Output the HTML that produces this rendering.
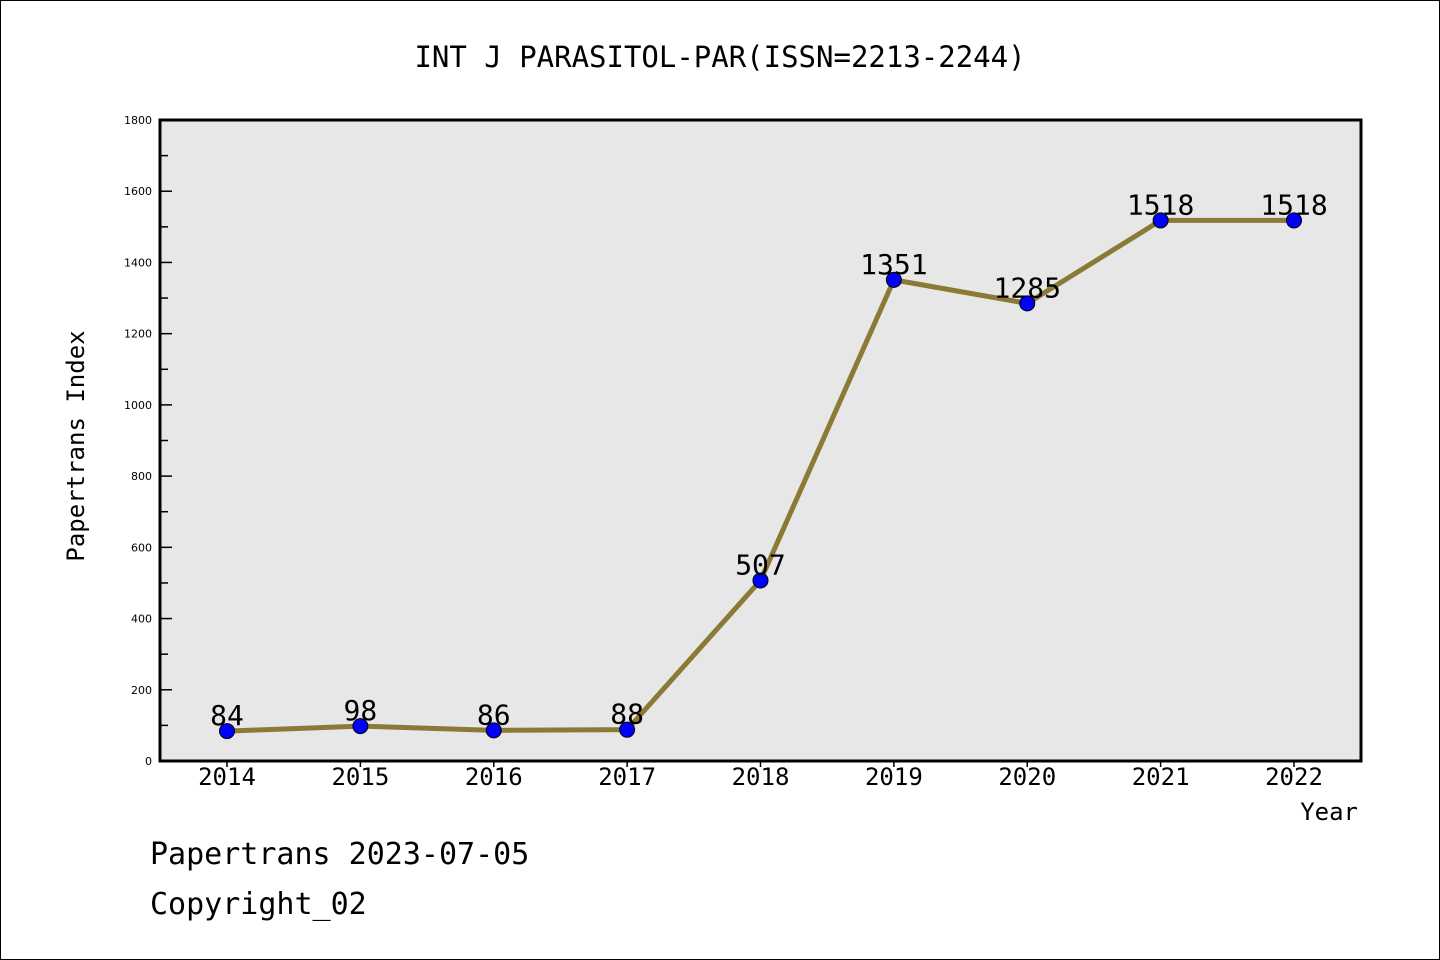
<!DOCTYPE html>
<html><head><meta charset="utf-8"><style>
body{margin:0;background:#fff}
svg{display:block;font-family:"DejaVu Sans Mono","Liberation Mono",monospace}
</style></head><body>
<svg id="c" width="1440" height="960" xmlns="http://www.w3.org/2000/svg">
<rect x="0.5" y="0.5" width="1439" height="959" fill="#fff" stroke="#000"/>
<text x="720" y="67" font-size="29" text-anchor="middle">INT J PARASITOL-PAR(ISSN=2213-2244)</text>
<rect x="160" y="120" width="1201" height="641" fill="#e7e7e7"/>
<g id="ticks"></g>
<g id="marks"></g>
<rect x="160" y="120" width="1201" height="641" fill="none" stroke="#000" stroke-width="3"/>
<text x="84" y="446" font-size="24" text-anchor="middle" transform="rotate(-90 84 446)">Papertrans Index</text>
<text x="1358" y="820" font-size="24" text-anchor="end">Year</text>
<text x="150" y="864" font-size="30">Papertrans 2023-07-05</text>
<text x="150" y="914" font-size="30">Copyright_02</text>
</svg>
<script>
const years=["2014","2015","2016","2017","2018","2019","2020","2021","2022"];
const values=[84,98,86,88,507,1351,1285,1518,1518];
const yTicks=[0,200,400,600,800,1000,1200,1400,1600,1800];
const NS="http://www.w3.org/2000/svg";
const x0=227,x1=1294,yb=761,yt=120,ymax=1800;
const xs=i=>x0+(x1-x0)*i/(years.length-1);
const ys=v=>yb-(yb-yt)*v/ymax;
function mk(t,a,p){const e=document.createElementNS(NS,t);for(const k in a)e.setAttribute(k,a[k]);p.appendChild(e);return e;}
const tg=document.getElementById('ticks'),mg=document.getElementById('marks');
yTicks.forEach((v,i)=>{
 const t=mk('text',{x:152,y:ys(v)+4,'font-size':11,'text-anchor':'end','font-family':'DejaVu Sans, sans-serif'},tg);t.textContent=v;
 
 
 const l=mk('line',{x1:160,x2:172,y1:ys(v),y2:ys(v),stroke:'#000','stroke-width':1.5},tg);
 
 
 if(i<yTicks.length-1){const m=ys(v+100);
  const n=mk('line',{x1:160,x2:168,y1:m,y2:m,stroke:'#000','stroke-width':1.5},tg);
  
  }
});
years.forEach((y,i)=>{
 const t=mk('text',{x:xs(i),y:785,'font-size':24,'text-anchor':'middle'},tg);t.textContent=y;
 
 
 const l=mk('line',{x1:xs(i),x2:xs(i),y1:761,y2:767,stroke:'#000','stroke-width':1.5},tg);
 
 
});
const pl=mk('polyline',{points:values.map((v,i)=>xs(i)+','+ys(v)).join(' '),fill:'none',stroke:'#8b7a35','stroke-width':5,'stroke-linejoin':'round'},mg);


values.forEach((v,i)=>{
 const c=mk('circle',{cx:xs(i),cy:ys(v),r:7.5,fill:'#0000ff',stroke:'#000','stroke-width':1},mg);
 
 
 const t=mk('text',{x:xs(i),y:ys(v)-6,'font-size':28,'text-anchor':'middle'},mg);t.textContent=v;
 
 
});
</script>
</body></html>
